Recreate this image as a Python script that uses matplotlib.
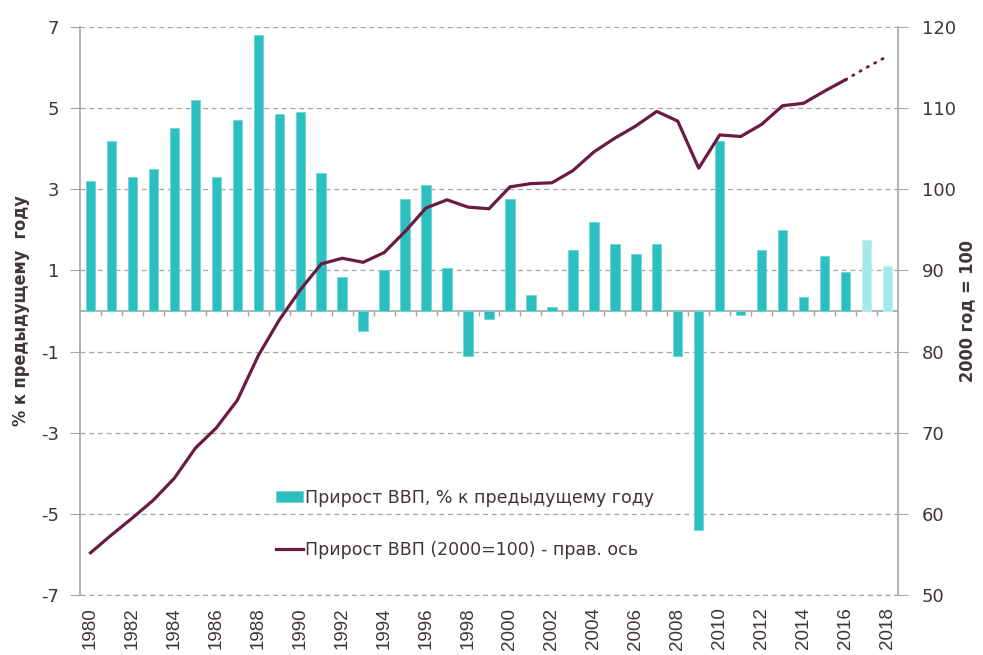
import matplotlib
matplotlib.use("Agg")
import matplotlib.pyplot as plt
import numpy as np

years = list(range(1980, 2019))
growth = [3.2, 4.2, 3.3, 3.5, 4.5, 5.2, 3.3, 4.7, 6.8, 4.85,
          4.9, 3.4, 0.85, -0.5, 1.0, 2.75, 3.1, 1.05, -1.1, -0.2,
          2.75, 0.4, 0.1, 1.5, 2.2, 1.65, 1.4, 1.65, -1.1, -5.4,
          4.2, -0.1, 1.5, 2.0, 0.35, 1.35, 0.95, 1.75, 1.1]
forecast_from = 2017

index_years = list(range(1980, 2017))
index_vals = [55.2, 57.4, 59.5, 61.7, 64.4, 68.1, 70.6, 74.0, 79.5, 83.9,
              87.6, 90.8, 91.5, 91.0, 92.2, 94.8, 97.7, 98.7, 97.8, 97.6,
              100.3, 100.7, 100.8, 102.3, 104.6, 106.3, 107.8, 109.6, 108.4, 102.6,
              106.7, 106.5, 108.0, 110.3, 110.6, 112.1, 113.5]
fc_years = [2016, 2017, 2018]
fc_vals = [113.5, 115.0, 116.4]

BAR = "#2bbfbf"
BAR_LIGHT = "#a3e9e9"
LINE = "#6b1a42"
TEXT = "#3f3536"
GRID = "#a6a6a6"

plt.rcParams["font.family"] = ["DejaVu Sans"]
plt.rcParams["axes.unicode_minus"] = False

fig = plt.figure(figsize=(9.83, 6.55), dpi=100)
ax = fig.add_axes([0.0814, 0.0916, 0.8321, 0.8672])

x = np.arange(len(years))
colors = [BAR_LIGHT if y >= forecast_from else BAR for y in years]
edges = ["#bdf2f2" if y >= forecast_from else "#6fd6d6" for y in years]
ax.bar(x, growth, width=0.45, color=colors, edgecolor=edges, linewidth=0.6,
       zorder=3, label="Прирост ВВП, % к предыдущему году")

ax.set_xlim(-0.5, len(years) - 0.5)
ax.set_ylim(-7, 7)
ax.set_yticks(np.arange(-7, 8, 2))
ax.yaxis.grid(True, linestyle=(0, (4, 3)), color=GRID, linewidth=0.9, zorder=0)
ax.set_axisbelow(True)
# bottom gridline sits on the axes edge, draw it unclipped
ax.axhline(-7, linestyle=(0, (4, 3)), color=GRID, linewidth=0.9, clip_on=False, zorder=0)
ax.set_xticks(x[::2])
ax.set_xticklabels([str(y) for y in years[::2]], rotation=90,
                   fontsize=13.5, color=TEXT, family="Liberation Sans")
ax.tick_params(axis="x", length=0, pad=9)
ax.tick_params(axis="y", length=7, color=GRID, labelsize=13, labelcolor=TEXT, pad=8)

for side in ("top", "bottom", "right"):
    ax.spines[side].set_visible(False)
ax.spines["left"].set_color(GRID)
ax.spines["left"].set_linewidth(1.2)

# zero line with category ticks
ax.axhline(0, color=GRID, linewidth=1.2, zorder=2)
ax.vlines(np.arange(0.5, len(years) - 1, 1), -0.13, 0, color=GRID, linewidth=1, zorder=2)

ax.set_ylabel("% к предыдущему  году", fontsize=13, fontweight="bold",
              color=TEXT, family="DejaVu Sans", fontstretch="condensed", labelpad=8)

ax2 = ax.twinx()
ax2.set_ylim(50, 120)
ax2.set_yticks(np.arange(50, 121, 10))
ax2.plot([years.index(y) for y in index_years], index_vals, color=LINE,
         linewidth=2.3, zorder=4, label="Прирост ВВП (2000=100) - прав. ось")
ax2.plot([years.index(y) for y in fc_years], fc_vals, color=LINE,
         linewidth=2.0, linestyle=(0, (0.5, 2.5)), dash_capstyle="round", zorder=4)
for side in ("top", "bottom", "left"):
    ax2.spines[side].set_visible(False)
ax2.spines["right"].set_color(GRID)
ax2.spines["right"].set_linewidth(1.2)
ax2.tick_params(axis="y", length=7, color=GRID, labelsize=13, labelcolor=TEXT, pad=10)
ax2.set_ylabel("2000 год = 100", fontsize=13, fontweight="bold", color=TEXT,
               family="DejaVu Sans", fontstretch="condensed", labelpad=2)

h1, l1 = ax.get_legend_handles_labels()
h2, l2 = ax2.get_legend_handles_labels()
leg = ax.legend(h1 + h2, l1 + l2, loc="upper left", bbox_to_anchor=(0.22, 0.215),
                frameon=False, fontsize=12.5, labelspacing=2.0, handlelength=1.6,
                handletextpad=0.1, handleheight=0.6)
for t in leg.get_texts():
    t.set_color(TEXT)

fig.savefig("out.png", dpi=100)
